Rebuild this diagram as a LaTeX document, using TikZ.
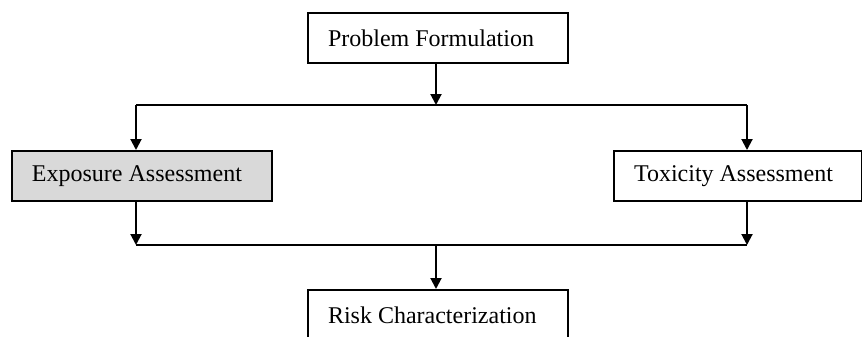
\documentclass[tikz,border=0pt]{standalone}
\usepackage{fontspec}
\setmainfont{Liberation Serif}
\usetikzlibrary{arrows.meta,calc}
\newcommand{\lbox}[2]{\makebox[#1][l]{#2}}
\begin{document}
\begin{tikzpicture}[x=0.5pt,y=-0.5pt,
  box/.style={draw=black,line width=1pt,minimum height=25pt,inner xsep=10pt,inner ysep=0pt,
    font=\fontsize{12}{14}\selectfont,anchor=north west},
  conn/.style={line width=1pt,-{Triangle[length=5.5pt,width=5.5pt]}},
  plain/.style={line width=1pt}]
\useasboundingbox (0,0) rectangle (862,337);
\node[box] (pf) at (307,12) {\lbox{110pt}{Problem Formulation}};
\node[box,fill={rgb,255:red,217;green,217;blue,217}] (ex) at (11,150) {\lbox{110pt}{Exposure Assessment}};
\node[box] (tx) at (613,150) {\lbox{104pt}{Toxicity Assessment}};
\node[box] (rc) at (307,289) {\lbox{110pt}{Risk Characterization}};
\coordinate (tm) at (436,105);
\coordinate (tl) at (136,105);
\coordinate (tr) at (747,105);
\coordinate (bm) at (436,245);
\coordinate (bl) at (136,245);
\coordinate (br) at (747,245);
\draw[conn] (tm |- pf.south) -- (tm);
\draw[plain] (tl) -- (tr);
\draw[conn] (tl) -- (tl |- ex.north);
\draw[conn] (tr) -- (tr |- tx.north);
\draw[conn] (bl |- ex.south) -- (bl);
\draw[conn] (br |- tx.south) -- (br);
\draw[plain] (bl) -- (br);
\draw[conn] (bm) -- (bm |- rc.north);
\end{tikzpicture}
\end{document}
